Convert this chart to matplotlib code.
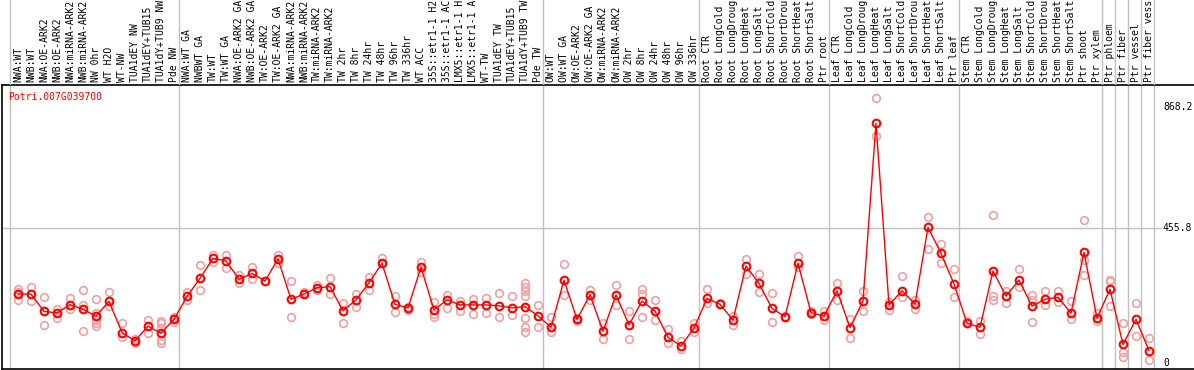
import matplotlib
matplotlib.use("Agg")
import matplotlib.pyplot as plt

gene = "Potri.007G039700"

# sample names, already cut to 14 characters as the chart shows them
labels = [
    "NWA:WT", "NWB:WT", "NWA:OE-ARK2", "NWB:OE-ARK2", "NWA:miRNA-ARK2", "NWB:miRNA-ARK2",
    "NW 0hr", "WT H2O", "WT-NW", "TUA1dEY NW", "TUA1dEY+TUB15", "TUA1dY+TUB9 NW", "Pde NW",
    "NWA:WT GA", "NWBWT GA", "TW:WT", "TW:WT GA", "NWA:OE-ARK2 GA", "NWB:OE-ARK2 GA",
    "TW:OE-ARK2", "TW:OE-ARK2 GA", "NWA:miRNA-ARK2", "NWB:miRNA-ARK2", "TW:miRNA-ARK2",
    "TW:miRNA-ARK2", "TW 2hr", "TW 8hr", "TW 24hr", "TW 48hr", "TW 96hr", "TW 336hr",
    "WT ACC", "35S::etr1-1 H2", "35S::etr1-1 AC", "LMX5::etr1-1 H", "LMX5::etr1-1 A",
    "WT-TW", "TUA1dEY TW", "TUA1dEY+TUB15", "TUA1dY+TUB9 TW", "Pde TW",
    "OW:WT", "OW:WT GA", "OW:OE-ARK2", "OW:OE-ARK2 GA", "OW:miRNA-ARK2", "OW:miRNA-ARK2",
    "OW 2hr", "OW 8hr", "OW 24hr", "OW 48hr", "OW 96hr", "OW 336hr",
    "Root CTR", "Root LongCold", "Root LongDroug", "Root LongHeat", "Root LongSalt",
    "Root ShortCold", "Root ShortDrou", "Root ShortHeat", "Root ShortSalt", "Ptr root",
    "Leaf CTR", "Leaf LongCold", "Leaf LongDroug", "Leaf LongHeat", "Leaf LongSalt",
    "Leaf ShortCold", "Leaf ShortDrou", "Leaf ShortHeat", "Leaf ShortSalt", "Ptr leaf",
    "Stem CTR", "Stem LongCold", "Stem LongDroug", "Stem LongHeat", "Stem LongSalt",
    "Stem ShortCold", "Stem ShortDrou", "Stem ShortHeat", "Stem ShortSalt", "Ptr shoot",
    "Ptr xylem", "Ptr phloem", "Ptr fiber", "Ptr vessel", "Ptr fiber vess",
]

# group boundaries (column index where a gray separator sits)
separators = [0, 13, 41, 53, 63, 73, 84, 85, 86, 87, 88]

means = [
    233, 233, 174, 169, 197, 181, 158, 208, 102, 74, 124, 100, 147,
    225, 286, 354, 345, 283, 303, 277, 352, 215, 233, 254, 258, 176, 213, 271,
    337, 198, 186, 324, 179, 213, 196, 196, 196, 193, 186, 190, 159,
    120, 280, 147, 230, 107, 230, 128, 209, 175, 86, 57, 117,
    218, 198, 145, 328, 269, 184, 156, 337, 170, 158,
    244, 119, 209, 812, 196, 244, 199, 459, 371, 267,
    134, 120, 311, 226, 280, 192, 215, 222, 168, 374, 151,
    249, 62, 147, 41,
]

replicates = [
    [250, 241, 213], [258, 209, 233], [222, 127, 174], [183, 151], [218, 183],
    [247, 197, 107], [216, 167, 145, 134, 124], [239, 192], [134, 86], [80, 68],
    [145, 102], [142, 134, 117, 77, 68], [156, 139],
    [241, 213], [331, 247], [365, 343], [365, 322], [297, 271], [326, 283], [277],
    [365, 337], [277, 156], [241, 233], [263, 247], [286, 233], [201, 134], [233, 188],
    [292, 247], [356, 337], [226, 171], [190, 180], [340, 309], [207, 165, 156],
    [230, 184], [210, 176], [215, 165], [218, 170], [237, 156], [227, 162],
    [269, 258, 244, 226, 151, 120, 105], [196, 122],
    [154, 103], [335, 230], [140, 152], [247, 213], [134, 80], [263, 196], [175, 80],
    [249, 233, 154], [213, 145], [114, 66], [75, 45], [134, 105],
    [249, 201], [201], [158, 128], [352, 300], [300, 241], [235, 137], [158],
    [362, 326], [174, 166], [175, 145],
    [271, 213], [147, 83], [244, 176], [897, 769], [207, 179], [294, 222], [213, 183],
    [495, 385], [402, 337], [317, 222],
    [142], [142, 97], [501, 226, 213], [244, 203], [317, 258], [230, 213, 137],
    [243, 195], [244, 207], [210, 147], [484, 348, 297], [168, 142],
    [280, 276, 192], [134, 37, 18], [201, 90], [83, 9],
]

grid_value = 455.8
tick_values = [868.2, 455.8, 0]
tick_labels = ["868.2", "455.8", "0"]

W, H = 1194, 370
fig = plt.figure(figsize=(W / 100, H / 100), dpi=100)
mono = "DejaVu Sans Mono"
fs = 7.0

# pixel helpers: column c edge at pixel 10 + 13c
def px2col(p):
    return (p - 10) / 13.0

xlo, xhi = px2col(1.5), px2col(W)
off = 8 / 13.0

# main plot axes (pixel y 85..369)
ax = fig.add_axes([1.5 / W, 1 / H, (W - 1.5) / W, 284 / H])
scale = 412.4 / 121.6
ax.set_xlim(xlo, xhi)
ax.set_ylim(-6.3 * scale, 277.7 * scale)
ax.spines["right"].set_visible(False)
for s in ["left", "bottom", "top"]:
    ax.spines[s].set_color("black")
    ax.spines[s].set_linewidth(1.2)
ax.set_xticks([])
ax.set_yticks([])

for c in separators:
    ax.axvline(c, color="#c0c0c0", lw=1, zorder=0)
ax.plot([xlo, px2col(1161)], [grid_value, grid_value], color="#c0c0c0", lw=1, zorder=0)

xs = [i + off for i in range(len(means))]
for i, reps in enumerate(replicates):
    ax.plot([xs[i]] * len(reps), reps, linestyle="none", marker="o", ms=5.5,
            mfc="none", mec="#f0a0a0", mew=1.2, zorder=2)
ax.plot(xs, means, color="red", lw=1, marker="o", ms=5.5, mfc="none",
        mec="red", mew=1.5, zorder=3)

for v, t in zip(tick_values, tick_labels):
    ax.text(px2col(1163), v, t, family=mono, fontsize=fs, ha="left", va="center")

fig.text(8 / W, 1 - 97 / H, gene, family=mono, fontsize=fs, color="red",
         ha="left", va="center")

# label strip on top (pixel y 0..85)
axl = fig.add_axes([0, (H - 85) / H, 1, 85 / H])
axl.set_xlim(px2col(0), px2col(W))
axl.set_ylim(0, 85)
axl.axis("off")
for c in separators:
    axl.axvline(c, color="#c0c0c0", lw=1)
for i, lab in enumerate(labels):
    axl.text(i + off, 2.5, lab, family=mono, fontsize=fs, rotation=90,
             ha="center", va="bottom", clip_on=True)

fig.savefig("out.png", dpi=100)
